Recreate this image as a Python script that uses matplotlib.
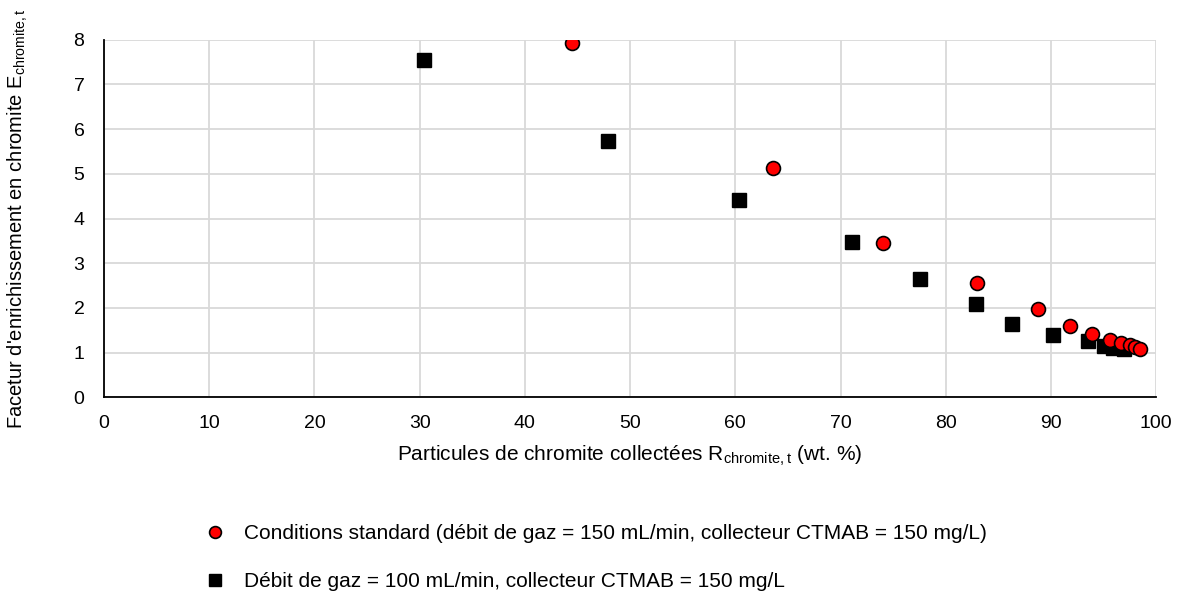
import matplotlib.pyplot as plt

plt.rcParams['font.family'] = ['Liberation Sans', 'DejaVu Sans']

# Conditions standard (red circles)
std_r = [44.5, 63.6, 74.0, 82.95, 88.8, 91.85, 93.9, 95.6, 96.7, 97.5, 98.0, 98.5]
std_e = [7.93, 5.14, 3.46, 2.55, 1.98, 1.59, 1.41, 1.28, 1.22, 1.17, 1.13, 1.09]

# Gas flow 100 mL/min (black squares)
gaz_r = [30.4, 47.9, 60.4, 71.1, 77.6, 82.85, 86.3, 90.2, 93.5, 95.0, 95.9, 96.9]
gaz_e = [7.54, 5.73, 4.42, 3.48, 2.64, 2.08, 1.65, 1.40, 1.25, 1.15, 1.10, 1.07]

label_std = "Conditions standard (débit de gaz = 150 mL/min, collecteur CTMAB = 150 mg/L)"
label_gaz = "Débit de gaz = 100 mL/min, collecteur CTMAB = 150 mg/L"

fig = plt.figure(figsize=(11.81, 5.93), dpi=100)
ax = fig.add_axes([0.088, 0.330, 0.891, 0.603])

l1, = ax.plot(std_r, std_e, 'o', ms=10, mfc='#ff0000', mec='black', mew=1.2,
              label=label_std, zorder=4)
l2, = ax.plot(gaz_r, gaz_e, 's', ms=10, mfc='black', mec='black',
              label=label_gaz, zorder=3)

ax.set_xlim(0, 100)
ax.set_ylim(0, 8)
ax.set_xticks(range(0, 101, 10))
ax.set_yticks(range(0, 9))
ax.grid(True, color='#d9d9d9', lw=1.3)
ax.set_axisbelow(True)
for s in ['top', 'right']:
    ax.spines[s].set_visible(False)
for s in ['left', 'bottom']:
    ax.spines[s].set_color('black')
    ax.spines[s].set_linewidth(1.3)
ax.tick_params(axis='x', length=0, labelsize=14, pad=13)
ax.tick_params(axis='y', length=0, labelsize=14, pad=14)

ax.set_xlabel(r"Particules de chromite collectées R$_{\mathregular{chromite,t}}$ (wt. %)",
              fontsize=15, labelpad=8)
ax.set_ylabel(r"Facetur d'enrichissement en chromite E$_{\mathregular{chromite,t}}$",
              fontsize=14.5, labelpad=31)

fig.legend(handles=[l1, l2], loc='upper left', bbox_to_anchor=(0.157, 0.148),
           frameon=False, fontsize=15, labelspacing=1.4, handletextpad=0.9,
           handlelength=1.0, markerscale=0.85)

fig.savefig('out.png', dpi=100)
